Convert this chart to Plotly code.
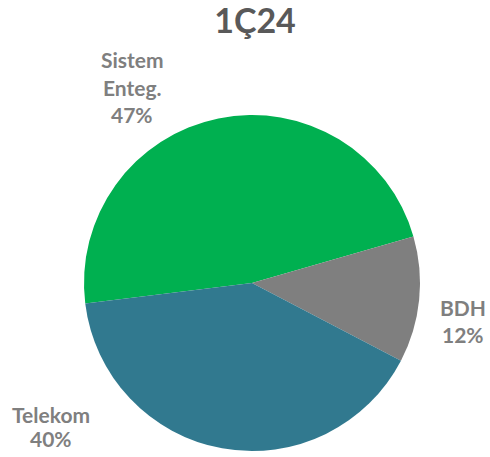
import plotly.graph_objects as go

title = "1Ç24"
labels = ["Sistem Enteg.", "BDH", "Telekom"]
label_lines = [["Sistem", "Enteg."], ["BDH"], ["Telekom"]]
values = [47, 12, 40]
colors = ["#00B050", "#7F7F7F", "#31798F"]

W, H = 490, 457

def px(x):
    return x / W

def py(y):
    return 1 - y / H

fig = go.Figure(go.Pie(
    labels=labels,
    values=values,
    marker=dict(colors=colors, line=dict(width=0)),
    sort=False,
    direction="clockwise",
    rotation=263,
    textinfo="none",
    hoverinfo="label+percent",
    domain=dict(x=[px(84), px(420)], y=[py(451), py(115)]),
    showlegend=False,
))

label_pos = [(132, 57), (463, 305), (51, 412)]
spacing = [28, 27, 24]
for lines, v, (lx, ly), sp in zip(label_lines, values, label_pos, spacing):
    all_lines = lines + [f"{v}%"]
    for i, t in enumerate(all_lines):
        fig.add_annotation(
            x=px(lx), y=py(ly + i * sp + 2), xref="paper", yref="paper",
            text=f"<b>{t}</b>", showarrow=False,
            font=dict(family="Lato", size=21, color="#7F7F7F"),
            align="center", xanchor="center", yanchor="middle",
        )

fig.update_layout(
    width=W, height=H,
    margin=dict(l=0, r=0, t=0, b=0),
    paper_bgcolor="white", plot_bgcolor="white",
    title=dict(text=f"<b>{title}</b>", x=px(255), xanchor="center", y=py(21), yanchor="middle",
               font=dict(family="Lato", size=34, color="#595959")),
)

fig.write_html(
    "out.html",
    config={"displayModeBar": False},
    post_script="document.body.style.margin='0';document.body.style.overflow='hidden';",
)
